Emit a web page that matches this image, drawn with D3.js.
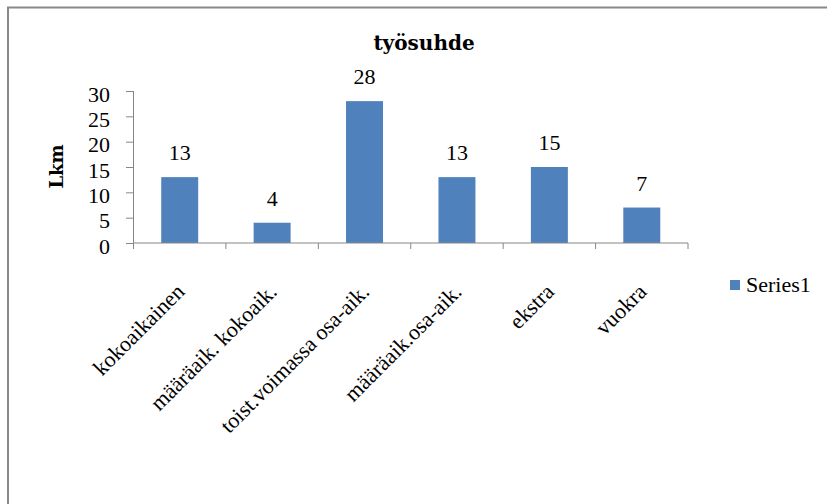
<!DOCTYPE html>
<html><head><meta charset="utf-8">
<script src="https://cdn.jsdelivr.net/npm/d3@7"></script>
<style>body{margin:0;background:#fff}svg{display:block}</style>
</head><body><svg id="c" width="827" height="504"></svg>
<script>
const title = "työsuhde";
const yLabel = "Lkm";
const seriesName = "Series1";
const categories = ["kokoaikainen","määräaik. kokoaik.","toist.voimassa osa-aik.","määräaik.osa-aik.","ekstra","vuokra"];
const values = [13,4,28,13,15,7];
const yTicks = [0,5,10,15,20,25,30];

const svg = d3.select("#c");
const font = "'Liberation Serif', serif";
const boldFont = "'DejaVu Serif', serif";
// chart frame (only top and left edges fall inside the picture)
svg.append("rect").attr("x",8).attr("y",7.5).attr("width",900).attr("height",600)
  .attr("fill","#fff").attr("stroke","#888").attr("stroke-width",2);

const x0=133.5, x1=688, yTop=91, yBot=243;
const x = d3.scaleBand().domain(categories).range([x0,x1]).paddingInner(0.6).paddingOuter(0.3);
const y = d3.scaleLinear().domain([0,30]).range([yBot,yTop]);

svg.append("text").attr("x",424).attr("y",50).attr("text-anchor","middle")
  .attr("font-family",boldFont).attr("font-weight","bold").attr("font-size",20).text(title);

svg.append("text").attr("transform","translate(63,166.5) rotate(-90)").attr("text-anchor","middle")
  .attr("font-family",boldFont).attr("font-weight","bold").attr("font-size",18).text(yLabel);

// y axis
const ya = svg.append("g").attr("transform",`translate(${x0},0)`)
  .call(d3.axisLeft(y).tickValues(yTicks).tickSize(7.5).tickPadding(16));
ya.selectAll("path,line").attr("stroke","#868686");
ya.select(".domain").attr("d",`M0,${yTop}V${yBot}`);
ya.selectAll("text").attr("font-family",font).attr("font-size",22).attr("fill","#000").attr("dy","0.46em");

// bars
svg.selectAll("rect.bar").data(values).join("rect").attr("class","bar")
  .attr("x",(d,i)=>x(categories[i])).attr("width",x.bandwidth())
  .attr("y",d=>y(d)).attr("height",d=>yBot-y(d)).attr("fill","#4F81BD");

// x axis
const step = (x1-x0)/categories.length;
const bounds = d3.range(categories.length+1).map(i=>x0+i*step);
const xa = svg.append("g");
xa.append("line").attr("x1",x0).attr("x2",x1).attr("y1",yBot).attr("y2",yBot).attr("stroke","#868686");
xa.selectAll("line.t").data(bounds).join("line").attr("class","t")
  .attr("x1",d=>d).attr("x2",d=>d).attr("y1",yBot).attr("y2",yBot+6).attr("stroke","#868686");

// data labels
svg.selectAll("text.dl").data(values).join("text").attr("class","dl")
  .attr("x",(d,i)=>x(categories[i])+x.bandwidth()/2).attr("y",d=>y(d)-17)
  .attr("text-anchor","middle").attr("font-family",font).attr("font-size",22).text(d=>d);

// category labels
svg.selectAll("text.cl").data(categories).join("text").attr("class","cl")
  .attr("transform",(d)=>`translate(${x(d)+x.bandwidth()/2+6},${yBot+50}) rotate(-45)`)
  .attr("text-anchor","end").attr("font-family",font).attr("font-size",22).text(d=>d);

// legend
svg.append("rect").attr("x",730).attr("y",280).attr("width",10).attr("height",10).attr("fill","#4F81BD");
svg.append("text").attr("x",746).attr("y",292).attr("font-family",font).attr("font-size",22).text(seriesName);
</script></body></html>
